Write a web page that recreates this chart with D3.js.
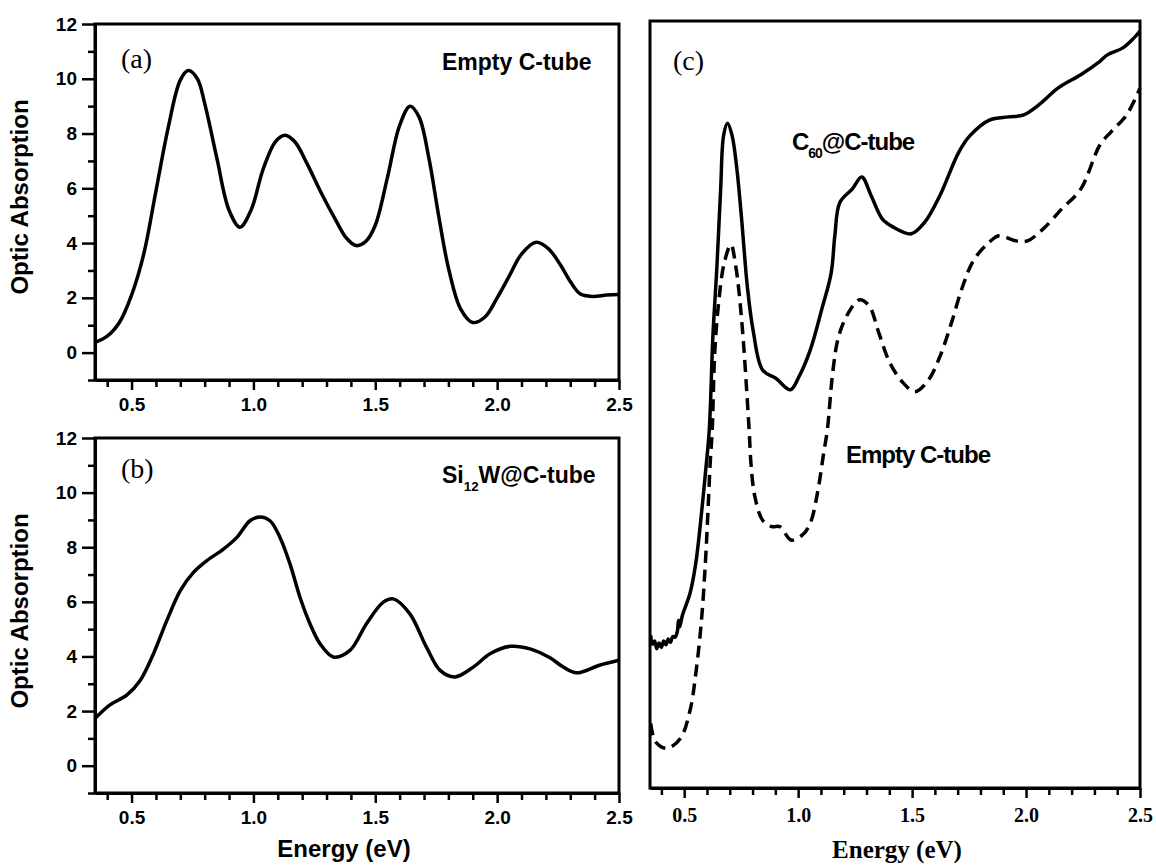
<!DOCTYPE html>
<html>
<head>
<meta charset="utf-8">
<script src="https://cdn.jsdelivr.net/npm/d3@7"></script>
<style>
  body { margin: 0; background: #fff; }
  svg { display: block; }
</style>
</head>
<body>
<div id="chart"></div>
<script>
// absorption spectra: [energy eV, absorption]
const emptyTubeA = [[0.35,0.37],[0.4,0.6],[0.45,1.1],[0.5,2.1],[0.55,3.6],[0.6,5.9],[0.65,8.2],[0.7,9.95],[0.733,10.3],[0.77,10.0],[0.8,9.1],[0.85,7.1],[0.9,5.2],[0.945,4.58],[0.99,5.2],[1.04,6.7],[1.09,7.7],[1.13,7.94],[1.17,7.7],[1.22,6.9],[1.28,5.8],[1.34,4.8],[1.38,4.2],[1.42,3.91],[1.46,4.05],[1.5,4.65],[1.55,6.4],[1.6,8.3],[1.643,9.0],[1.68,8.6],[1.72,7.1],[1.76,5.0],[1.8,3.1],[1.85,1.6],[1.9,1.1],[1.95,1.3],[2.0,2.0],[2.05,2.8],[2.1,3.6],[2.16,4.03],[2.21,3.8],[2.26,3.2],[2.3,2.6],[2.34,2.15],[2.39,2.05],[2.45,2.1],[2.5,2.12]]

const si12wB = [[0.35,1.73],[0.41,2.22],[0.48,2.58],[0.536,3.13],[0.59,4.1],[0.645,5.32],[0.7,6.41],[0.754,7.08],[0.809,7.51],[0.877,7.93],[0.932,8.36],[0.986,8.97],[1.027,9.11],[1.068,8.97],[1.109,8.36],[1.15,7.39],[1.191,6.17],[1.232,5.2],[1.273,4.47],[1.328,3.98],[1.396,4.22],[1.464,5.2],[1.533,5.99],[1.574,6.11],[1.642,5.56],[1.71,4.34],[1.766,3.49],[1.827,3.25],[1.902,3.61],[1.971,4.1],[2.053,4.37],[2.135,4.28],[2.217,3.95],[2.27,3.62],[2.326,3.4],[2.42,3.68],[2.5,3.86]]

// panel (c) has no y scale in the figure, arbitrary units 0..12
const c60TubeC = [[0.353,2.39],[0.36,2.25],[0.37,2.3],[0.38,2.18],[0.39,2.27],[0.40,2.2],[0.41,2.3],[0.42,2.24],[0.43,2.33],[0.44,2.28],[0.45,2.37],[0.46,2.36],[0.47,2.45],[0.475,2.62],[0.48,2.52],[0.492,2.7],[0.526,3.05],[0.551,3.52],[0.576,4.3],[0.593,4.92],[0.61,5.6],[0.626,7.07],[0.643,8.12],[0.66,9.37],[0.673,10.21],[0.69,10.4],[0.71,10.21],[0.731,9.69],[0.752,8.9],[0.777,7.85],[0.802,7.17],[0.844,6.54],[0.902,6.41],[0.966,6.23],[1.003,6.43],[1.053,6.85],[1.103,7.48],[1.145,8.06],[1.161,8.64],[1.183,9.16],[1.237,9.37],[1.279,9.56],[1.32,9.27],[1.37,8.9],[1.42,8.77],[1.496,8.67],[1.555,8.85],[1.622,9.27],[1.705,9.95],[1.755,10.21],[1.839,10.45],[1.923,10.5],[1.99,10.53],[2.057,10.69],[2.14,10.95],[2.24,11.16],[2.324,11.37],[2.357,11.47],[2.425,11.58],[2.475,11.74],[2.5,11.84]]

const emptyTubeC = [[0.353,1.01],[0.375,0.72],[0.425,0.62],[0.484,0.78],[0.526,1.22],[0.551,1.79],[0.576,2.63],[0.593,3.52],[0.604,4.3],[0.614,5.08],[0.623,5.6],[0.634,6.8],[0.651,7.59],[0.676,8.22],[0.705,8.5],[0.726,8.17],[0.752,7.33],[0.785,5.6],[0.793,5.08],[0.81,4.56],[0.844,4.19],[0.885,4.09],[0.919,4.09],[0.969,3.88],[1.019,3.96],[1.053,4.14],[1.087,4.66],[1.112,5.24],[1.128,5.6],[1.153,6.54],[1.178,7.07],[1.22,7.43],[1.27,7.64],[1.312,7.54],[1.354,7.12],[1.404,6.64],[1.463,6.33],[1.513,6.2],[1.571,6.38],[1.622,6.75],[1.672,7.27],[1.722,7.85],[1.772,8.27],[1.839,8.54],[1.881,8.64],[1.956,8.56],[2.006,8.56],[2.073,8.74],[2.157,9.06],[2.24,9.37],[2.324,10.06],[2.374,10.27],[2.441,10.53],[2.5,10.95]]

const xMajor = [0.5, 1.0, 1.5, 2.0, 2.5]
const yMajor = [0, 2, 4, 6, 8, 10, 12]
const yMinor = [-1, 1, 3, 5, 7, 9, 11]
const xMinor = d3.range(4, 25).map(d => d / 10).filter(d => Math.round(d * 10) % 5 != 0)

const SANS = "'Liberation Sans', Arial, sans-serif"
const SERIF = "'Liberation Serif', 'Times New Roman', serif"

let svg = d3.select("#chart").append("svg")
    .attr("width", 1156)
    .attr("height", 865)

function styleAxis(g, font, size) {
    g.selectAll("path.domain").attr("stroke", "#000").attr("stroke-width", 3)
    g.selectAll(".tick line").attr("stroke", "#000").attr("stroke-width", 2.5)
    g.selectAll(".tick text")
        .attr("fill", "#000")
        .style("font-family", font)
        .style("font-size", size + "px")
        .style("font-weight", "bold")
}

function drawPanel(p) {
    let x = d3.scaleLinear().domain([0.35, 2.5]).range([p.left, p.right])
    let y = d3.scaleLinear().domain(p.yDomain).range([p.bottom, p.top])
    let g = svg.append("g")

    // frame
    g.append("rect")
        .attr("x", p.left).attr("y", p.top)
        .attr("width", p.right - p.left).attr("height", p.bottom - p.top)
        .attr("fill", "none").attr("stroke", "#000").attr("stroke-width", 3)

    // x axis
    let gx = g.append("g").attr("transform", `translate(0,${p.bottom})`)
        .call(d3.axisBottom(x).tickValues(xMajor).tickSize(10).tickSizeOuter(0)
            .tickPadding(p.xPad).tickFormat(d3.format(".1f")))
    styleAxis(gx, p.tickFont, p.tickSize)
    let gxm = g.append("g").attr("transform", `translate(0,${p.bottom})`)
        .call(d3.axisBottom(x).tickValues(xMinor).tickSize(7).tickFormat(""))
    gxm.select("path.domain").remove()
    styleAxis(gxm, p.tickFont, p.tickSize)

    if (p.yAxis) {
        let gy = g.append("g").attr("transform", `translate(${p.left},0)`)
            .call(d3.axisLeft(y).tickValues(yMajor).tickSize(13).tickSizeOuter(0).tickPadding(5))
        styleAxis(gy, SANS, 19)
        let gym = g.append("g").attr("transform", `translate(${p.left},0)`)
            .call(d3.axisLeft(y).tickValues(yMinor).tickSize(7).tickFormat(""))
        gym.select("path.domain").remove()
        styleAxis(gym, SANS, 19)

        g.append("text")
            .attr("transform", `translate(28,${p.yTitleY}) rotate(-90)`)
            .attr("text-anchor", "middle")
            .style("font-family", SANS).style("font-size", "24px").style("font-weight", "bold")
            .text("Optic Absorption")
    }

    if (p.xTitle) {
        g.append("text")
            .attr("x", p.xTitleX).attr("y", p.xTitleY)
            .attr("text-anchor", "middle")
            .style("font-family", p.titleFont).style("font-size", p.titleSize + "px").style("font-weight", "bold")
            .text(p.xTitle)
    }

    let line = d3.line()
        .x(d => x(d[0]))
        .y(d => y(d[1]))
        .curve(d3.curveCatmullRom.alpha(0.5))

    p.series.forEach(s => {
        g.append("path")
            .datum(s.data)
            .attr("d", line)
            .attr("fill", "none")
            .attr("stroke", "#000")
            .attr("stroke-width", 3.5)
            .attr("stroke-linejoin", "round")
            .attr("stroke-dasharray", s.dash || null)
    })

    g.append("text")
        .attr("x", p.tagX).attr("y", p.tagY)
        .style("font-family", SERIF).style("font-size", "28px")
        .text(p.tag)
    return g
}

let ga = drawPanel({
    left: 95, right: 619, top: 24, bottom: 380, yDomain: [-1, 12], yAxis: true,
    xPad: 8, tickFont: SANS, tickSize: 19, yTitleY: 197,
    series: [{data: emptyTubeA}], tag: "(a)", tagX: 121, tagY: 68
})
let gb = drawPanel({
    left: 95, right: 619, top: 438, bottom: 793, yDomain: [-1, 12], yAxis: true,
    xPad: 8, tickFont: SANS, tickSize: 19, yTitleY: 611,
    xTitle: "Energy (eV)", xTitleX: 344, xTitleY: 857, titleFont: SANS, titleSize: 24,
    series: [{data: si12wB}], tag: "(b)", tagX: 121, tagY: 478
})
let gc = drawPanel({
    left: 650, right: 1140, top: 21, bottom: 788, yDomain: [0, 12], yAxis: false,
    xPad: 10, tickFont: SERIF, tickSize: 20,
    xTitle: "Energy (eV)", xTitleX: 897, xTitleY: 858, titleFont: SERIF, titleSize: 25,
    series: [{data: c60TubeC}, {data: emptyTubeC, dash: "12,7"}], tag: "(c)", tagX: 673, tagY: 70
})

// curve labels
function label(g, x, y, main, sub, rest, size, spacing) {
    let t = g.append("text")
        .attr("x", x).attr("y", y)
        .style("font-family", SANS).style("font-size", size + "px").style("font-weight", "bold")
        .style("letter-spacing", spacing + "px")
    t.append("tspan").text(main)
    if (sub) {
        t.append("tspan").attr("dy", 8).style("font-size", (size * 0.58) + "px").text(sub)
        t.append("tspan").attr("dy", -8).text(rest)
    }
}
label(ga, 442, 70, "Empty C-tube", null, null, 23, 0)
label(gb, 442, 483, "Si", "12", "W@C-tube", 23, 0)
label(gc, 792, 150, "C", "60", "@C-tube", 24, -1)
label(gc, 846, 463, "Empty C-tube", null, null, 24, -1)
</script>
</body>
</html>
